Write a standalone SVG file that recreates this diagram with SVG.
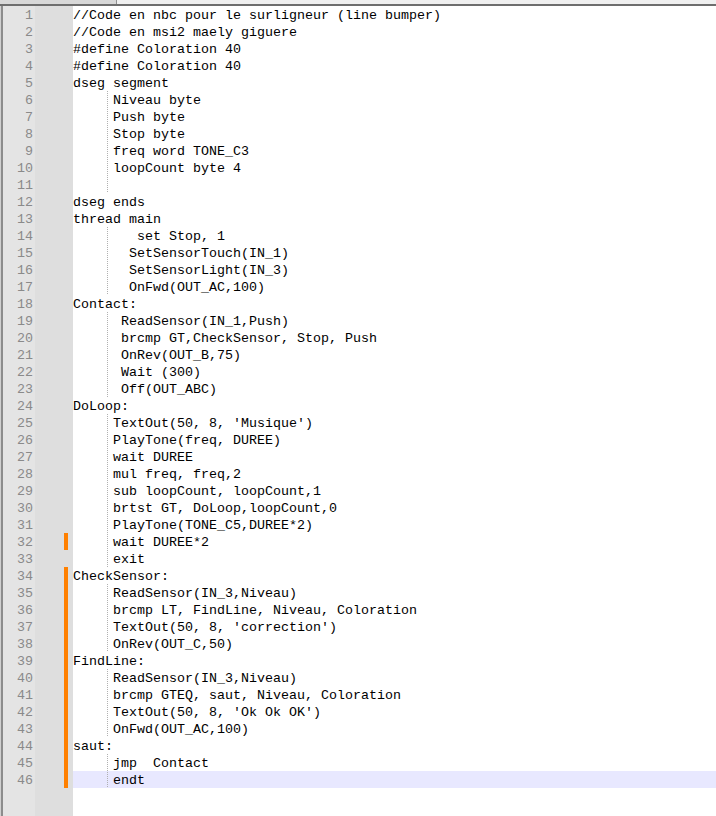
<svg xmlns="http://www.w3.org/2000/svg" width="716" height="816" viewBox="0 0 716 816">
<style>
.code{font-family:"Liberation Mono","Courier New",monospace;font-size:13.33px;fill:#000;white-space:pre}
.num{font-family:"Liberation Mono","Courier New",monospace;font-size:13.33px;fill:#8a8a8a;text-anchor:end}
.guide{stroke:#b0b0b0;stroke-width:1;stroke-dasharray:1 1}
.mark{fill:#ff8000}
</style>
<rect x="0" y="0" width="716" height="816" fill="#ffffff"/>
<!-- tab bar remnant -->
<rect x="0" y="0" width="716" height="4" fill="#f0f0f0"/>
<rect x="0" y="0" width="116" height="4" fill="#d8d8d8"/>
<rect x="116" y="0" width="1" height="4" fill="#909090"/>
<rect x="0" y="4" width="716" height="2" fill="#6e6e6e"/>
<!-- gutter -->
<rect x="0" y="6" width="3" height="810" fill="#8c8c8c"/>
<rect x="0" y="6" width="1" height="810" fill="#d0d0d0"/>
<rect x="3" y="6" width="32" height="810" fill="#e4e4e4"/>
<rect x="35" y="6" width="38" height="810" fill="#dedede"/>
<!-- current line highlight -->
<rect x="73" y="771" width="643" height="17" fill="#e8e8ff"/>
<!-- change markers -->
<rect class="mark" x="64" y="533" width="4" height="17"/>
<rect class="mark" x="64" y="567" width="4" height="221"/>
<!-- indent guides -->
<g id="guides">
<line class="guide" x1="107.5" y1="91" x2="107.5" y2="193"/>
<line class="guide" x1="107.5" y1="227" x2="107.5" y2="295"/>
<line class="guide" x1="107.5" y1="312" x2="107.5" y2="397"/>
<line class="guide" x1="107.5" y1="414" x2="107.5" y2="567"/>
<line class="guide" x1="107.5" y1="584" x2="107.5" y2="652"/>
<line class="guide" x1="107.5" y1="669" x2="107.5" y2="737"/>
<line class="guide" x1="107.5" y1="754" x2="107.5" y2="788"/>
</g>
<g id="line-numbers">
<text class="num" x="33" y="19">1</text>
<text class="num" x="33" y="36">2</text>
<text class="num" x="33" y="53">3</text>
<text class="num" x="33" y="70">4</text>
<text class="num" x="33" y="87">5</text>
<text class="num" x="33" y="104">6</text>
<text class="num" x="33" y="121">7</text>
<text class="num" x="33" y="138">8</text>
<text class="num" x="33" y="155">9</text>
<text class="num" x="33" y="172">10</text>
<text class="num" x="33" y="189">11</text>
<text class="num" x="33" y="206">12</text>
<text class="num" x="33" y="223">13</text>
<text class="num" x="33" y="240">14</text>
<text class="num" x="33" y="257">15</text>
<text class="num" x="33" y="274">16</text>
<text class="num" x="33" y="291">17</text>
<text class="num" x="33" y="308">18</text>
<text class="num" x="33" y="325">19</text>
<text class="num" x="33" y="342">20</text>
<text class="num" x="33" y="359">21</text>
<text class="num" x="33" y="376">22</text>
<text class="num" x="33" y="393">23</text>
<text class="num" x="33" y="410">24</text>
<text class="num" x="33" y="427">25</text>
<text class="num" x="33" y="444">26</text>
<text class="num" x="33" y="461">27</text>
<text class="num" x="33" y="478">28</text>
<text class="num" x="33" y="495">29</text>
<text class="num" x="33" y="512">30</text>
<text class="num" x="33" y="529">31</text>
<text class="num" x="33" y="546">32</text>
<text class="num" x="33" y="563">33</text>
<text class="num" x="33" y="580">34</text>
<text class="num" x="33" y="597">35</text>
<text class="num" x="33" y="614">36</text>
<text class="num" x="33" y="631">37</text>
<text class="num" x="33" y="648">38</text>
<text class="num" x="33" y="665">39</text>
<text class="num" x="33" y="682">40</text>
<text class="num" x="33" y="699">41</text>
<text class="num" x="33" y="716">42</text>
<text class="num" x="33" y="733">43</text>
<text class="num" x="33" y="750">44</text>
<text class="num" x="33" y="767">45</text>
<text class="num" x="33" y="784">46</text>
</g>
<g id="code">
<text class="code" x="73" y="19">//Code en nbc pour le surligneur (line bumper)</text>
<text class="code" x="73" y="36">//Code en msi2 maely giguere</text>
<text class="code" x="73" y="53">#define Coloration 40</text>
<text class="code" x="73" y="70">#define Coloration 40</text>
<text class="code" x="73" y="87">dseg segment</text>
<text class="code" x="113" y="104">Niveau byte</text>
<text class="code" x="113" y="121">Push byte</text>
<text class="code" x="113" y="138">Stop byte</text>
<text class="code" x="113" y="155">freq word TONE_C3</text>
<text class="code" x="113" y="172">loopCount byte 4</text>
<text class="code" x="73" y="206">dseg ends</text>
<text class="code" x="73" y="223">thread main</text>
<text class="code" x="137" y="240">set Stop, 1</text>
<text class="code" x="129" y="257">SetSensorTouch(IN_1)</text>
<text class="code" x="129" y="274">SetSensorLight(IN_3)</text>
<text class="code" x="129" y="291">OnFwd(OUT_AC,100)</text>
<text class="code" x="73" y="308">Contact:</text>
<text class="code" x="121" y="325">ReadSensor(IN_1,Push)</text>
<text class="code" x="121" y="342">brcmp GT,CheckSensor, Stop, Push</text>
<text class="code" x="121" y="359">OnRev(OUT_B,75)</text>
<text class="code" x="121" y="376">Wait (300)</text>
<text class="code" x="121" y="393">Off(OUT_ABC)</text>
<text class="code" x="73" y="410">DoLoop:</text>
<text class="code" x="113" y="427">TextOut(50, 8, 'Musique')</text>
<text class="code" x="113" y="444">PlayTone(freq, DUREE)</text>
<text class="code" x="113" y="461">wait DUREE</text>
<text class="code" x="113" y="478">mul freq, freq,2</text>
<text class="code" x="113" y="495">sub loopCount, loopCount,1</text>
<text class="code" x="113" y="512">brtst GT, DoLoop,loopCount,0</text>
<text class="code" x="113" y="529">PlayTone(TONE_C5,DUREE*2)</text>
<text class="code" x="113" y="546">wait DUREE*2</text>
<text class="code" x="113" y="563">exit</text>
<text class="code" x="73" y="580">CheckSensor:</text>
<text class="code" x="113" y="597">ReadSensor(IN_3,Niveau)</text>
<text class="code" x="113" y="614">brcmp LT, FindLine, Niveau, Coloration</text>
<text class="code" x="113" y="631">TextOut(50, 8, 'correction')</text>
<text class="code" x="113" y="648">OnRev(OUT_C,50)</text>
<text class="code" x="73" y="665">FindLine:</text>
<text class="code" x="113" y="682">ReadSensor(IN_3,Niveau)</text>
<text class="code" x="113" y="699">brcmp GTEQ, saut, Niveau, Coloration</text>
<text class="code" x="113" y="716">TextOut(50, 8, 'Ok Ok OK')</text>
<text class="code" x="113" y="733">OnFwd(OUT_AC,100)</text>
<text class="code" x="73" y="750">saut:</text>
<text class="code" x="113" y="767">jmp  Contact</text>
<text class="code" x="113" y="784">endt</text>
</g>
</svg>
